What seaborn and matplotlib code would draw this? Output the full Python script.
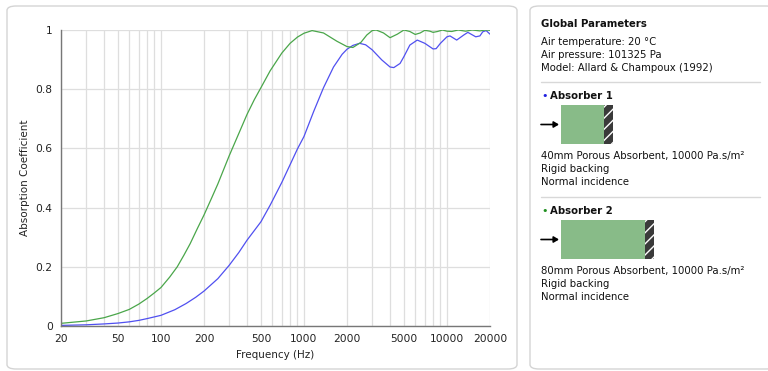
import numpy as np
import pandas as pd
import matplotlib
matplotlib.use("Agg")
import matplotlib.pyplot as plt
import seaborn as sns
from matplotlib.patches import FancyBboxPatch, Rectangle, FancyArrowPatch
from matplotlib.ticker import FixedLocator, NullFormatter

# ----- data -----
freq_80mm = [20, 30, 40, 50, 60, 70, 80, 90, 100, 115, 130, 145, 160, 180, 200, 225,
             250, 300, 350, 400, 450, 500, 580, 700, 800, 900, 1000, 1140, 1370, 1700,
             2000, 2200, 2500, 2750, 3000, 3200, 3600, 4000, 4500, 5000, 5500, 6000,
             6500, 7000, 7600, 8000, 8600, 9300, 10000, 10800, 12000, 13500, 15000,
             17000, 18500, 20000]
alpha_80mm = [0.009, 0.017, 0.028, 0.042, 0.056, 0.074, 0.093, 0.112, 0.130, 0.165,
              0.200, 0.240, 0.278, 0.330, 0.375, 0.430, 0.480, 0.575, 0.650, 0.715,
              0.765, 0.805, 0.862, 0.922, 0.955, 0.976, 0.989, 0.998, 0.990, 0.962,
              0.944, 0.941, 0.958, 0.983, 0.998, 1.000, 0.990, 0.974, 0.986, 1.000,
              0.995, 0.985, 0.990, 0.999, 0.996, 0.992, 0.995, 1.000, 0.996, 0.995,
              1.000, 0.996, 1.000, 0.997, 1.000, 0.999]

freq_40mm = [20, 30, 40, 50, 60, 70, 80, 100, 125, 150, 175, 200, 250, 300, 350, 400,
             500, 580, 700, 800, 900, 1000, 1170, 1370, 1610, 1850, 2000, 2200, 2450,
             2700, 3000, 3500, 4000, 4250, 4700, 5000, 5500, 6200, 7000, 8000, 8400,
             9000, 10000, 10500, 11700, 13100, 14000, 15900, 17000, 17800, 18800, 20000]
alpha_40mm = [0.002, 0.004, 0.007, 0.010, 0.014, 0.019, 0.025, 0.036, 0.055, 0.076,
              0.097, 0.118, 0.160, 0.205, 0.248, 0.290, 0.352, 0.408, 0.485, 0.545,
              0.598, 0.640, 0.725, 0.805, 0.875, 0.918, 0.935, 0.948, 0.955, 0.950,
              0.933, 0.899, 0.875, 0.873, 0.887, 0.910, 0.949, 0.966, 0.955, 0.936,
              0.937, 0.955, 0.977, 0.980, 0.966, 0.983, 0.992, 0.977, 0.980, 0.994,
              0.998, 0.986]

x_ticks = [20, 50, 100, 200, 500, 1000, 2000, 5000, 10000, 20000]
y_ticks = [0, 0.2, 0.4, 0.6, 0.8, 1]
y_tick_labels = ["0", "0.2", "0.4", "0.6", "0.8", "1"]

df = pd.concat([
    pd.DataFrame({"Frequency": freq_40mm, "Alpha": alpha_40mm, "Absorber": "Absorber 1"}),
    pd.DataFrame({"Frequency": freq_80mm, "Alpha": alpha_80mm, "Absorber": "Absorber 2"}),
])

sns.set_style("white")
plt.rcParams["font.family"] = ["DejaVu Sans"]

fig = plt.figure(figsize=(7.68, 3.71), dpi=100)
W, H = 768, 371

# panel frames (behind everything)
for (x0, y0, x1, y1) in [(7, 6, 517, 369), (530, 6, 775, 369)]:
    fig.patches.append(FancyBboxPatch((x0 / W, 1 - y1 / H), (x1 - x0) / W, (y1 - y0) / H,
                                      boxstyle="round,pad=0,rounding_size=0.012",
                                      transform=fig.transFigure, facecolor="white",
                                      edgecolor="#d4d4d4", linewidth=1.0, zorder=-5))

ax = fig.add_axes([61 / W, 1 - 326 / H, (490 - 61) / W, (326 - 30) / H])
ax.set_facecolor("none")

sns.lineplot(data=df, x="Frequency", y="Alpha", hue="Absorber",
             palette={"Absorber 1": "#5050f0", "Absorber 2": "#4aa64a"},
             linewidth=0.9, legend=False, ax=ax, estimator=None, sort=True)

ax.set_xscale("log")
ax.set_xlim(20, 20000)
ax.set_ylim(0, 1)

minor = [m * 10 ** e for e in range(1, 5) for m in range(1, 10)]
minor = [v for v in minor if 20 <= v <= 20000]
ax.xaxis.set_major_locator(FixedLocator(x_ticks))
ax.xaxis.set_minor_locator(FixedLocator(minor))
ax.xaxis.set_minor_formatter(NullFormatter())
ax.set_xticklabels([str(t) for t in x_ticks])
ax.set_yticks(y_ticks)
ax.set_yticklabels(y_tick_labels)

ax.grid(True, which="both", axis="x", color="#dedede", linewidth=0.9)
ax.grid(True, which="major", axis="y", color="#dedede", linewidth=0.9)
ax.set_axisbelow(True)

for s in ["top", "right"]:
    ax.spines[s].set_visible(False)
for s in ["left", "bottom"]:
    ax.spines[s].set_color("#777777")
    ax.spines[s].set_linewidth(1.0)

ax.tick_params(axis="both", which="major", labelsize=7.7, colors="#222222",
               length=3, width=0.8, pad=3)
ax.tick_params(axis="x", which="minor", length=0)
for t in ax.get_xticklabels() + ax.get_yticklabels():
    t.set_color("#222222")
ax.set_xlabel("Frequency (Hz)", fontsize=7.5, color="#222222", labelpad=4)
ax.set_ylabel("Absorption Coefficient", fontsize=7.5, color="#222222", labelpad=4)

# ----- right-hand info panel -----
def fx(px):
    return px / W

def fy(py):
    return 1 - py / H

txt = dict(fontsize=7.3, color="#111111", va="center", ha="left", transform=fig.transFigure)
fig.text(fx(541), fy(24), "Global Parameters", fontweight="bold", **txt)
fig.text(fx(541), fy(42), "Air temperature: 20 °C", **txt)
fig.text(fx(541), fy(55), "Air pressure: 101325 Pa", **txt)
fig.text(fx(541), fy(68), "Model: Allard & Champoux (1992)", **txt)

sep_kw = dict(color="#d8d8d8", linewidth=1.0, transform=fig.transFigure)
fig.add_artist(plt.Line2D([fx(541), fx(760)], [fy(82), fy(82)], **sep_kw))
fig.add_artist(plt.Line2D([fx(541), fx(760)], [fy(197), fy(197)], **sep_kw))

blocks = [
    (96, "Absorber 1", "#2020e0", 43, "40mm Porous Absorbent, 10000 Pa.s/m²"),
    (211, "Absorber 2", "#209020", 84, "80mm Porous Absorbent, 10000 Pa.s/m²"),
]
for top, name, dot, width, desc in blocks:
    fig.text(fx(541.5), fy(top), "•", fontsize=8, color=dot, va="center", ha="left",
             transform=fig.transFigure)
    fig.text(fx(550), fy(top), name, fontweight="bold", **txt)
    r_top, r_bot = top + 9, top + 48
    fig.patches.append(Rectangle((fx(561), fy(r_bot)), width / W, (r_bot - r_top) / H,
                                 transform=fig.transFigure, facecolor="#88bb88",
                                 edgecolor="none"))
    fig.patches.append(Rectangle((fx(561 + width), fy(r_bot)), 9 / W, (r_bot - r_top) / H,
                                 transform=fig.transFigure, facecolor="#3a3a3a",
                                 edgecolor="white", hatch="///", linewidth=0))
    ymid = fy((r_top + r_bot) / 2)
    fig.patches.append(FancyArrowPatch(
        (fx(541), ymid), (fx(559), ymid), transform=fig.transFigure,
        arrowstyle="-|>,head_length=3,head_width=1.8", color="black", linewidth=1.2,
        shrinkA=0, shrinkB=0, zorder=3))
    fig.text(fx(541), fy(top + 60), desc, **txt)
    fig.text(fx(541), fy(top + 73), "Rigid backing", **txt)
    fig.text(fx(541), fy(top + 86), "Normal incidence", **txt)

fig.savefig("out.png", dpi=100)
